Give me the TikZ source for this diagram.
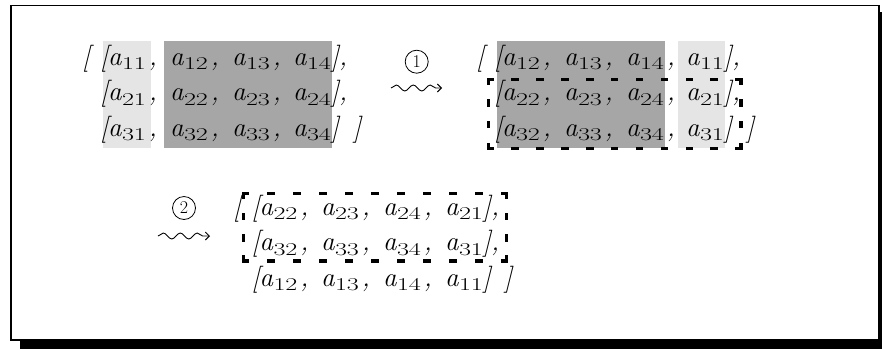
\documentclass[tikz,border=0pt]{standalone}
\usepackage{fontspec}
\usepackage{graphicx}
\setmainfont{Latin Modern Roman}
\usetikzlibrary{decorations.pathmorphing,arrows.meta}

% one matrix entry a_{ij}: wide, lowered index digits
\newcommand\ent[1]{a\kern0.5pt\raisebox{-4.5pt}{\scalebox{1.45}[1]{\upshape\fontsize{18}{20}\selectfont #1}}}

\tikzset{
  tok/.style={anchor=base west, inner sep=0pt, outer sep=0pt,
              font=\fontsize{27}{32}\selectfont\itshape},
  lightshade/.style={fill=black!10},
  darkshade/.style={fill=black!35},
  % one side of a dashed group box; the value is the gap between dashes
  groupside/.style={draw=black, line width=3.5pt, line cap=rect,
                    dash pattern=on 4pt off #1},
  stepmark/.style={circle, draw, line width=0.8pt, minimum size=23pt,
                   inner sep=0pt, font=\fontsize{18}{18}\selectfont},
  squig/.style={line width=0.9pt, decorate,
                decoration={snake, amplitude=3pt, segment length=17pt, post length=6pt},
                -{Straight Barb[length=4pt, width=8pt]}},
}

\begin{document}
\begin{tikzpicture}[x=1pt, y=-1pt]
\useasboundingbox (0,0) rectangle (882,349);

% shadowed frame
\fill[black] (20,340) rectangle (882,349);
\fill[black] (879,12) rectangle (882,349);
\draw[line width=1.6pt] (11,5.5) rectangle (879,340);

% ---- original matrix ----
\fill[lightshade] (102.5,41) rectangle (151,148);
\fill[darkshade]  (164,41) rectangle (332,148);

\node[tok] (Lo)  at (82,65) {[};
\node[tok] (L1b) at (100,65) {[};
\node[tok] (L11) at (108,65) {\ent{11}\kern3pt,};
\node[tok] (L12) at (170,65) {\ent{12}\kern3pt,};
\node[tok] (L13) at (232,65) {\ent{13}\kern3pt,};
\node[tok] (L14) at (293,65) {\ent{14}],};

\node[tok] (L2b) at (100,100.5) {[};
\node[tok] (L21) at (108,100.5) {\ent{21}\kern3pt,};
\node[tok] (L22) at (170,100.5) {\ent{22}\kern3pt,};
\node[tok] (L23) at (232,100.5) {\ent{23}\kern3pt,};
\node[tok] (L24) at (293,100.5) {\ent{24}],};

\node[tok] (L3b) at (100,136) {[};
\node[tok] (L31) at (108,136) {\ent{31}\kern3pt,};
\node[tok] (L32) at (170,136) {\ent{32}\kern3pt,};
\node[tok] (L33) at (232,136) {\ent{33}\kern3pt,};
\node[tok] (L34) at (293,136) {\ent{34}]\hspace{14pt}]};

% ---- step 1 ----
\node[stepmark] (m1) at (416.7,61.7) {1};
\coordinate (s1a) at (391,88);
\coordinate (s1b) at (442,88);
\draw[squig] (s1a) -- (s1b);

% ---- columns rotated ----
\fill[darkshade]  (496.7,41) rectangle (665,148);
\fill[lightshade] (677.5,41) rectangle (724.5,148);

\node[tok] (Ro)  at (476,65) {[};
\node[tok] (R1b) at (494,65) {[};
\node[tok] (R11) at (502,65) {\ent{12}\kern3pt,};
\node[tok] (R12) at (564,65) {\ent{13}\kern3pt,};
\node[tok] (R13) at (626,65) {\ent{14}\kern3pt,};
\node[tok] (R14) at (686,65) {\ent{11}],};

\node[tok] (R2b) at (494,100.5) {[};
\node[tok] (R21) at (502,100.5) {\ent{22}\kern3pt,};
\node[tok] (R22) at (564,100.5) {\ent{23}\kern3pt,};
\node[tok] (R23) at (626,100.5) {\ent{24}\kern3pt,};
\node[tok] (R24) at (686,100.5) {\ent{21}],};

\node[tok] (R3b) at (494,136) {[};
\node[tok] (R31) at (502,136) {\ent{32}\kern3pt,};
\node[tok] (R32) at (564,136) {\ent{33}\kern3pt,};
\node[tok] (R33) at (626,136) {\ent{34}\kern3pt,};
\node[tok] (R34) at (686,136) {\ent{31}]\hspace{14pt}]};

% dashed group around the two lower rows
\coordinate (RgNW) at (488.3,79.3);
\coordinate (RgNE) at (741,79.3);
\coordinate (RgSE) at (741,148.3);
\coordinate (RgSW) at (488.3,148.3);
\draw[groupside=20.87pt] (RgNW) -- (RgNE);
\draw[groupside=20.87pt] (RgSW) -- (RgSE);
\draw[groupside=17.67pt] (RgNE) -- (RgSE);
\draw[groupside=17.67pt] (RgNW) -- (RgSW);

% ---- step 2 ----
\node[stepmark] (m2) at (184,208) {2};
\coordinate (s2a) at (158,236);
\coordinate (s2b) at (210,236);
\draw[squig] (s2a) -- (s2b);

% ---- rows rotated ----
\node[tok] (So)  at (233,215) {[};
\node[tok] (S1b) at (251.5,215) {[};
\node[tok] (S11) at (259.5,215) {\ent{22}\kern3pt,};
\node[tok] (S12) at (321,215) {\ent{23}\kern3pt,};
\node[tok] (S13) at (383,215) {\ent{24}\kern3pt,};
\node[tok] (S14) at (445,215) {\ent{21}],};

\node[tok] (S2b) at (251.5,250.5) {[};
\node[tok] (S21) at (259.5,250.5) {\ent{32}\kern3pt,};
\node[tok] (S22) at (321,250.5) {\ent{33}\kern3pt,};
\node[tok] (S23) at (383,250.5) {\ent{34}\kern3pt,};
\node[tok] (S24) at (445,250.5) {\ent{31}],};

\node[tok] (S3b) at (251.5,286) {[};
\node[tok] (S31) at (259.5,286) {\ent{12}\kern3pt,};
\node[tok] (S32) at (321,286) {\ent{13}\kern3pt,};
\node[tok] (S33) at (383,286) {\ent{14}\kern3pt,};
\node[tok] (S34) at (445,286) {\ent{11}]\hspace{13pt}]};

% dashed group around the two upper rows
\coordinate (SgNW) at (243.3,193.3);
\coordinate (SgNE) at (506.7,193.3);
\coordinate (SgSE) at (506.7,261);
\coordinate (SgSW) at (243.3,261);
\draw[groupside=21.94pt] (SgNW) -- (SgNE);
\draw[groupside=21.94pt] (SgSW) -- (SgSE);
\draw[groupside=17.23pt] (SgNE) -- (SgSE);
\draw[groupside=17.23pt] (SgNW) -- (SgSW);
\end{tikzpicture}
\end{document}
